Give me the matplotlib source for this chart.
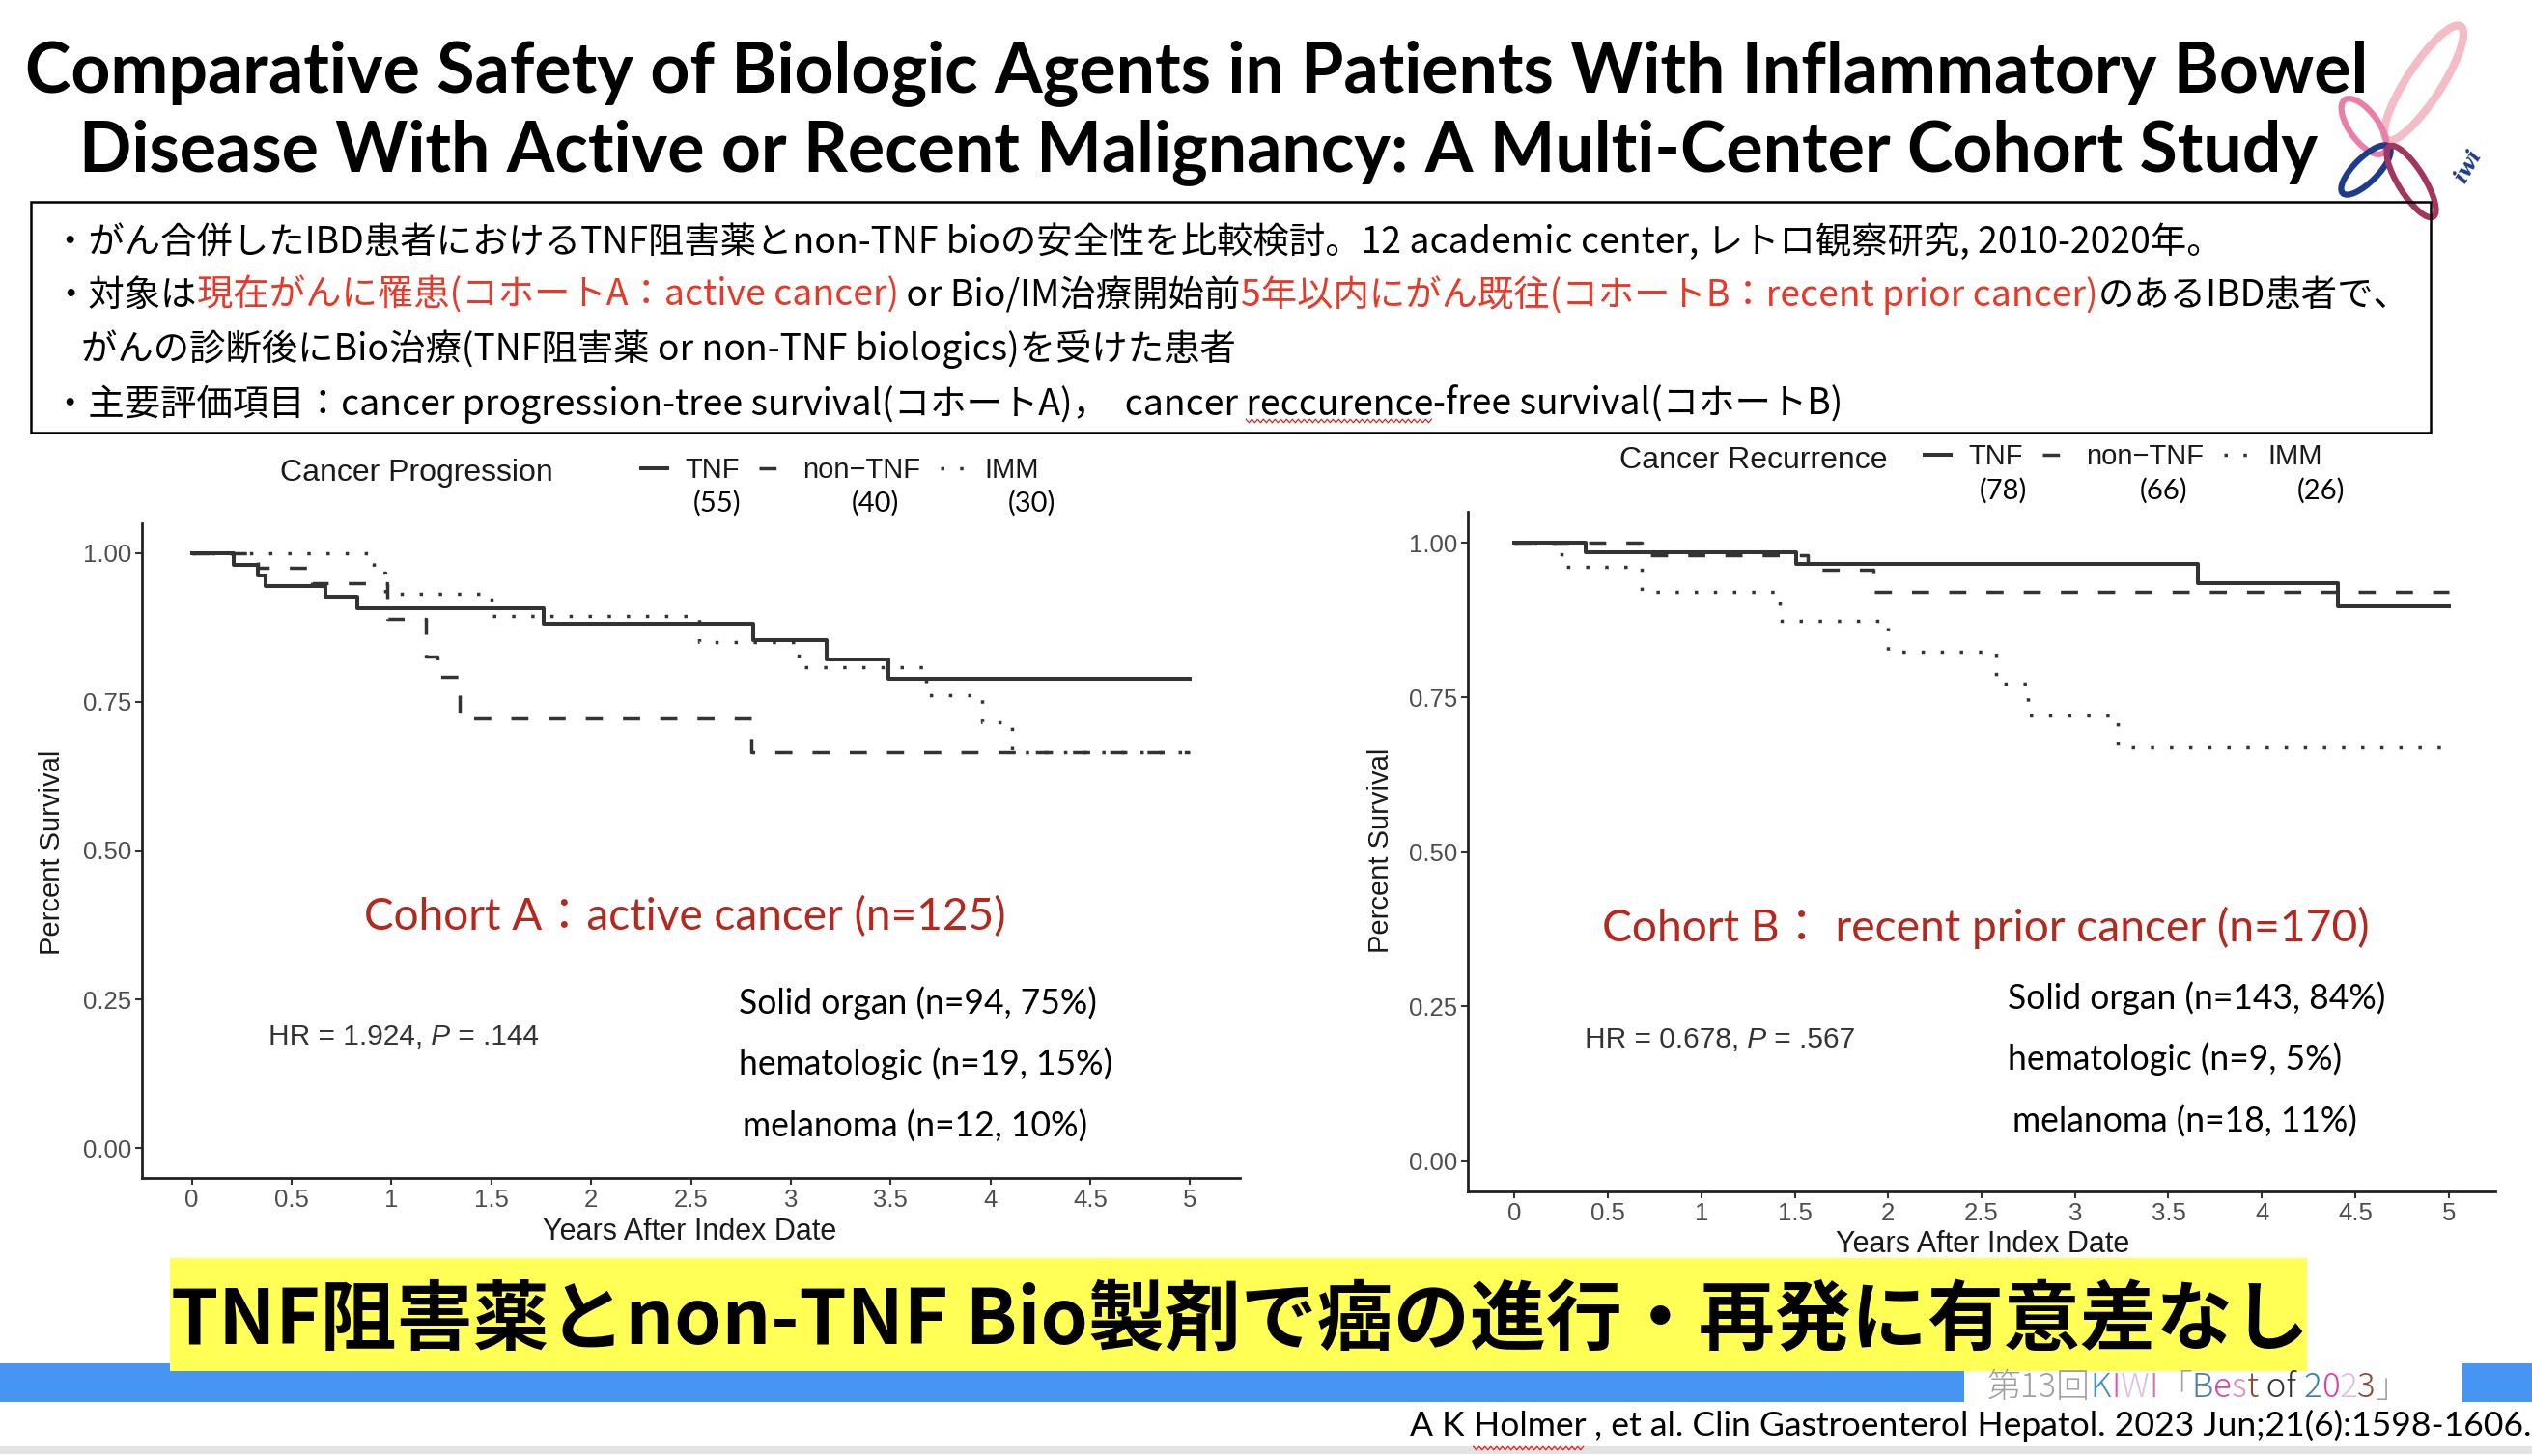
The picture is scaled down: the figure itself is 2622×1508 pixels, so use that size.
import matplotlib
matplotlib.use("Agg")
import matplotlib.pyplot as plt
from matplotlib.patches import Rectangle, Ellipse
import numpy as np

W, H = 2622, 1508

# ---- Kaplan-Meier steps (years, survival after the step) ----
years_a_tnf = [0, 0.21, 0.33, 0.37, 0.67, 0.83, 1.76, 2.81, 3.18, 3.49, 5.0]
surv_a_tnf = [1.0, 0.981, 0.963, 0.944, 0.927, 0.907, 0.882, 0.853, 0.821, 0.789, 0.789]
years_a_non = [0, 0.33, 0.60, 0.98, 1.17, 1.23, 1.34, 2.80, 5.0]
surv_a_non = [1.0, 0.975, 0.950, 0.890, 0.826, 0.792, 0.723, 0.666, 0.666]
years_a_imm = [0, 0.91, 0.97, 1.50, 2.54, 3.04, 3.68, 3.96, 4.11, 5.0]
surv_a_imm = [1.0, 0.967, 0.932, 0.894, 0.851, 0.808, 0.761, 0.715, 0.666, 0.666]

years_b_tnf = [0, 0.38, 1.51, 3.66, 4.41, 5.0]
surv_b_tnf = [1.0, 0.985, 0.966, 0.935, 0.897, 0.897]
years_b_non = [0, 0.68, 1.57, 1.92, 5.0]
surv_b_non = [1.0, 0.980, 0.956, 0.921, 0.921]
years_b_imm = [0, 0.25, 0.68, 1.42, 2.00, 2.58, 2.75, 3.23, 5.0]
surv_b_imm = [1.0, 0.961, 0.921, 0.873, 0.823, 0.772, 0.721, 0.669, 0.669]

groups = ["TNF", "non\u2212TNF", "IMM"]
counts_a = ["(55)", "(40)", "(30)"]
counts_b = ["(78)", "(66)", "(26)"]
x_ticks = [0, 0.5, 1, 1.5, 2, 2.5, 3, 3.5, 4, 4.5, 5]
x_tick_labels = ["0", "0.5", "1", "1.5", "2", "2.5", "3", "3.5", "4", "4.5", "5"]
y_ticks = [0, 0.25, 0.5, 0.75, 1.0]
y_tick_labels = ["0.00", "0.25", "0.50", "0.75", "1.00"]

types_a = ["Solid organ (n=94, 75%)", "hematologic (n=19, 15%)", "melanoma (n=12, 10%)"]
types_b = ["Solid organ (n=143, 84%)", "hematologic (n=9, 5%)", "melanoma (n=18, 11%)"]
hr_a = ["HR = 1.924,", " P", " = .144"]
hr_b = ["HR = 0.678,", " P", " = .567"]

title_lines = ["Comparative Safety of Biologic Agents in Patients With Inflammatory Bowel",
               "Disease With Active or Recent Malignancy: A Multi-Center Cohort Study"]
banner = "TNF阻害薬とnon-TNF Bio製剤で癌の進行・再発に有意差なし"
citation = ["A K", " Holmer", " , et al. Clin Gastroenterol Hepatol. 2023 Jun;21(6):1598-1606."]

RED = "#E83828"
DARKRED = "#B5281E"
LINE = "#333333"

plt.rcParams["font.family"] = ["Liberation Sans", "DejaVu Sans"]
JP = ["Noto Sans CJK JP", "DejaVu Sans"]
CAL = ["Lato", "Noto Sans CJK JP", "DejaVu Sans"]
TITLE = ["Liberation Sans Narrow", "Lato", "DejaVu Sans"]

fig = plt.figure(figsize=(W / 100, H / 100), dpi=100)
fig.patch.set_facecolor("white")

# overlay in pixel units (y down) for the slide decoration
bg = fig.add_axes([0, 0, 1, 1])
bg.set_xlim(0, W)
bg.set_ylim(H, 0)
bg.axis("off")
renderer = fig.canvas.get_renderer()


def width(t):
    return t.get_window_extent(renderer).width


def fit(t, target):
    for _ in range(3):
        t.set_fontsize(t.get_fontsize() * target / width(t))
    return t.get_fontsize()


def runs(x, y, parts, size, family, **kw):
    arts = []
    for p in parts:
        text, color = p[0], p[1]
        style = p[2] if len(p) > 2 else "normal"
        t = bg.text(x, y, text, color=color, fontsize=size, family=family,
                    style=style, va="baseline", ha="left", **kw)
        x += width(t)
        arts.append(t)
    return arts


def fit_runs(x, y, parts, size, family, target, **kw):
    arts = runs(x, y, parts, size, family, **kw)
    total = sum(width(a) for a in arts)
    for a in arts:
        a.remove()
    return runs(x, y, parts, size * target / total, family, **kw)


def wavy(x0, x1, y):
    xs = np.arange(x0, x1, 3.0)
    ys = y + np.where(np.arange(len(xs)) % 2 == 0, -1.8, 1.8)
    bg.plot(xs, ys, color="#E02020", lw=0.9)


# ---- title ----
t1 = bg.text(1239, 95, title_lines[0], ha="center", va="baseline", family=TITLE,
             weight="bold", fontsize=40)
fs_title = fit(t1, 2428)
bg.text(1241, 177, title_lines[1], ha="center", va="baseline", family=TITLE,
        weight="bold", fontsize=fs_title)

# ---- logo ----
for (cx, cy), w, h, ang, col, lw in [((2510, 86), 140, 36, -57, "#F3BCC6", 6),
                                      ((2448, 131), 68, 30, 54, "#E97FA8", 4.5),
                                      ((2450, 176), 68, 25, -45, "#1E3C8E", 4.5),
                                      ((2497, 188), 86, 27, 58, "#A2365F", 4.5)]:
    bg.add_patch(Ellipse((cx, cy), w, h, angle=ang, fill=False, ec=col, lw=lw))
bg.text(2556, 172, "iwi", rotation=60, color="#1E3C8E", family="DejaVu Serif",
        style="italic", weight="bold", fontsize=16, ha="center", va="center")

# ---- summary box ----
bg.add_patch(Rectangle((32, 209), 2517 - 32, 448 - 209, fill=False, ec="black", lw=1.8))
b1 = bg.text(54, 262, "・がん合併したIBD患者におけるTNF阻害薬とnon-TNF bioの安全性を比較検討。"
             "12 academic center, レトロ観察研究, 2010-2020年。",
             family=JP, fontsize=26, va="baseline", color="black")
fs_box = fit(b1, 2248)
runs(54, 317, [("・対象は", "black"),
               ("現在がんに罹患(コホートA：active cancer)", RED),
               (" or Bio/IM治療開始前", "black"),
               ("5年以内にがん既往(コホートB：recent prior cancer)", RED),
               ("のあるIBD患者で、", "black")], fs_box, JP)
bg.text(84, 373, "がんの診断後にBio治療(TNF阻害薬 or non-TNF biologics)を受けた患者",
        family=JP, fontsize=fs_box, va="baseline", color="black")
l4 = runs(54, 430, [("・主要評価項目：cancer progression-tree survival(コホートA)，  cancer", "black"),
                    (" reccurence", "black"),
                    ("-free survival(コホートB)", "black")], fs_box, JP)
tmp = bg.text(0, 0, "reccurence", family=JP, fontsize=fs_box)
w_rec = width(tmp)
tmp.remove()
x_end = l4[2].get_position()[0]
wavy(x_end - w_rec, x_end, 436)


# ---- Kaplan-Meier panels ----
styles = ["-", (0, (5.1, 6.0)), (0, (1.0, 4.7))]
widths = [2.9, 2.5, 2.5]


def km_panel(rect, curves, legend_xy, xlabel_xy, ylabel_xy):
    ax = fig.add_axes(rect)
    ax.set_facecolor("none")
    for (t, s), g, ls, lw in zip(curves, groups, styles, widths):
        ax.step(t, s, where="post", color=LINE, lw=lw, ls=ls, label=g)
    ax.set_xlim(-0.25, 5.25)
    ax.set_ylim(-0.05, 1.05)
    ax.set_xticks(x_ticks)
    ax.set_xticklabels(x_tick_labels)
    ax.set_yticks(y_ticks)
    ax.set_yticklabels(y_tick_labels)
    for side in ["top", "right"]:
        ax.spines[side].set_visible(False)
    for side in ["left", "bottom"]:
        ax.spines[side].set_linewidth(2.0)
        ax.spines[side].set_color("#222222")
    ax.tick_params(length=5, width=1.5, color="#333333", labelsize=18.5,
                   labelcolor="#4D4D4D", pad=3)
    ax.set_xlabel("Years After Index Date", fontsize=22, color="#1a1a1a", va="center")
    ax.xaxis.set_label_coords(*xlabel_xy)
    ax.set_ylabel("Percent Survival", fontsize=21, color="#1a1a1a", va="center")
    ax.yaxis.set_label_coords(*ylabel_xy)
    ax.legend(ncol=3, loc="center left", bbox_to_anchor=legend_xy,
              bbox_transform=bg.transData, frameon=False, handlelength=0.92,
              handletextpad=0.62, columnspacing=0.72, borderpad=0, borderaxespad=0,
              prop={"family": "Liberation Sans", "size": 21}, labelcolor="#1a1a1a")
    return ax


ax_a = km_panel([147 / W, 1 - 1220 / H, (1284 - 147) / W, (1220 - 542) / H],
                [(years_a_tnf, surv_a_tnf), (years_a_non, surv_a_non), (years_a_imm, surv_a_imm)],
                (664, 487), (0.499, -0.083), (-0.082, 0.497))
ax_b = km_panel([1520 / W, 1 - 1234 / H, (2584 - 1520) / W, (1234 - 530) / H],
                [(years_b_tnf, surv_b_tnf), (years_b_non, surv_b_non), (years_b_imm, surv_b_imm)],
                (1993, 473), (0.501, -0.078), (-0.0846, 0.501))

bg.text(290, 498, "Cancer Progression", fontsize=23, color="#1a1a1a", va="baseline")
bg.text(1677, 485, "Cancer Recurrence", fontsize=23, color="#1a1a1a", va="baseline")
for c, x in zip(counts_a, [743, 906, 1068]):
    bg.text(x, 521, c, family=CAL, fontsize=21, ha="center", va="center", color="black")
for c, x in zip(counts_b, [2074, 2241, 2404]):
    bg.text(x, 508, c, family=CAL, fontsize=21, ha="center", va="center", color="black")

# cohort annotations
ca = bg.text(377, 963, "Cohort A：active cancer (n=125)", family=CAL, color=DARKRED,
             fontsize=30, va="baseline")
fit(ca, 664)
cb = bg.text(1659, 975, "Cohort B： recent prior cancer (n=170)", family=CAL, color=DARKRED,
             fontsize=30, va="baseline")
fit(cb, 795)

s0 = bg.text(765, 1050, types_a[0], family=CAL, fontsize=24, va="baseline", color="black")
fs_types = fit(s0, 371)
for txt, (x, y) in zip(types_a[1:], [(765, 1113), (769, 1178)]):
    bg.text(x, y, txt, family=CAL, fontsize=fs_types, va="baseline", color="black")
for txt, (x, y) in zip(types_b, [(2079, 1045), (2079, 1108), (2084, 1173)]):
    bg.text(x, y, txt, family=CAL, fontsize=fs_types, va="baseline", color="black")

runs(278, 1082, [(hr_a[0], "#333333"), (hr_a[1], "#333333", "italic"), (hr_a[2], "#333333")],
     21.5, ["Liberation Sans", "DejaVu Sans"])
runs(1641, 1085, [(hr_b[0], "#333333"), (hr_b[1], "#333333", "italic"), (hr_b[2], "#333333")],
     21.5, ["Liberation Sans", "DejaVu Sans"])

# ---- bottom banner ----
bg.add_patch(Rectangle((0, 1412), 2034, 40, color="#4695F2", lw=0))
bg.add_patch(Rectangle((2550, 1412), W - 2550, 40, color="#4695F2", lw=0))
bg.add_patch(Rectangle((176, 1303), 2213, 117, color="#FFFF55", lw=0))
bn = bg.text(177, 1392, banner, family=JP, weight="bold", fontsize=55, va="baseline",
             color="black")
fit(bn, 2212)

fit_runs(2058, 1447, [("第13回", "#A0A0A0"), ("K", "#4A8FC2"), ("I", "#E05AA8"),
                      ("W", "#DCC0E4"), ("I", "#E26AAE"), ("「", "#A0A0A0"),
                      ("B", "#4F7FA8"), ("e", "#E0449A"), ("s", "#E58BC0"), ("t", "#8B4A2B"),
                      (" of ", "#333333"), ("2", "#3E7FB0"), ("0", "#E040A0"),
                      ("2", "#DCC0E4"), ("3", "#8B4A2B"), ("」", "#A0A0A0")],
         24, JP, 436, weight="light")

cit = fit_runs(1460, 1487, [(s, "black") for s in citation], 22, CAL, 1157)
tmp = bg.text(0, 0, "Holmer", family=CAL, fontsize=cit[0].get_fontsize())
w_hol = width(tmp)
tmp.remove()
x_end = cit[2].get_position()[0]
wavy(x_end - w_hol, x_end, 1500)

bg.add_patch(Rectangle((0, 1498), W, 8, color="#E3E3E3", lw=0))

fig.savefig("out.png", dpi=100, facecolor="white")
